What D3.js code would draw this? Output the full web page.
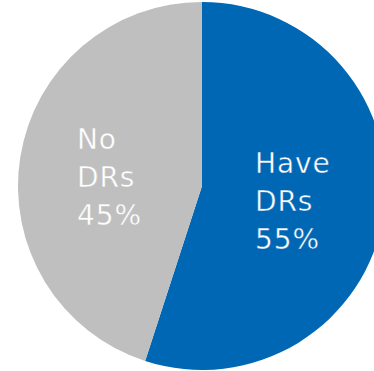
<!DOCTYPE html>
<html>
<head>
<meta charset="utf-8">
<script src="https://cdn.jsdelivr.net/npm/d3@7"></script>
<style>
html, body { margin: 0; padding: 0; background: #ffffff; }
svg { display: block; }
</style>
</head>
<body>
<svg id="chart" width="374" height="371"></svg>
<script>
const categories = ["Have DRs", "No DRs"];
const values = [55, 45];
const labelLines = [["Have", "DRs", "55%"], ["No", "DRs", "45%"]];
const sliceColors = ["#0067B4", "#BFBFBF"];

const svg = d3.select("#chart");
const cx = 202, cy = 186, r = 184;
const g = svg.append("g").attr("transform", `translate(${cx},${cy})`);

const pie = d3.pie().sort(null).value(d => d.value);
const data = pie(categories.map((c, i) => ({ name: c, value: values[i], lines: labelLines[i] })));
const arc = d3.arc().innerRadius(0).outerRadius(r);
const color = d3.scaleOrdinal().domain(categories).range(sliceColors);

g.selectAll("path.slice").data(data).enter().append("path")
  .attr("class", "slice")
  .attr("d", arc)
  .attr("fill", d => color(d.data.name));

// label anchors (left edge, first baseline) relative to slice centroid
const labelArc = d3.arc().innerRadius(r * 0.58).outerRadius(r * 0.58);
const offsets = [[-52.4, -29.7], [-19.6, -20.3]];
const lineH = 38;
data.forEach((d, i) => {
  const [mx, my] = labelArc.centroid(d);
  const t = g.append("text")
    .attr("x", 0).attr("y", 0)
    .attr("transform", `translate(${mx + offsets[i][0]},${my + offsets[i][1]})`)
    .attr("fill", "#ffffff")
    .attr("stroke", color(d.data.name))
    .attr("stroke-width", 0.45)
    .style("font-family", "'DejaVu Sans', sans-serif")
    .style("font-size", "28px")
    .style("letter-spacing", "0.9px");
  d.data.lines.forEach((ln, j) => {
    t.append("tspan").attr("x", 0).attr("y", j * lineH).text(ln);
  });
});
</script>
</body>
</html>
